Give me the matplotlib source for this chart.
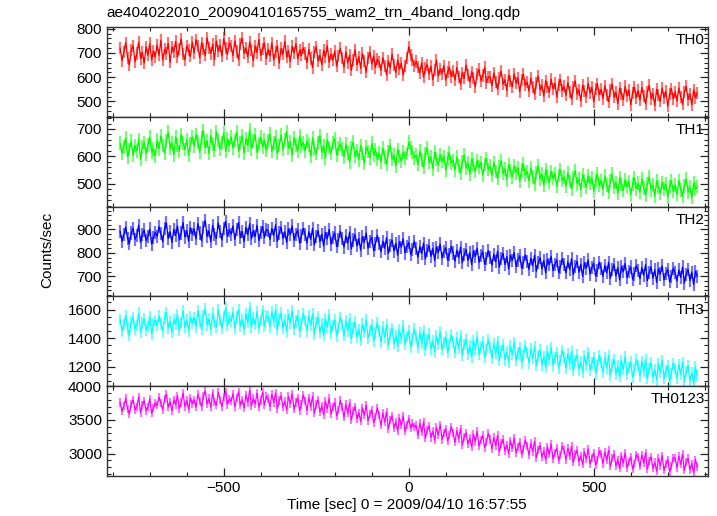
import matplotlib
matplotlib.use("Agg")
import matplotlib.pyplot as plt
import numpy as np
from matplotlib.ticker import MultipleLocator

plt.rcParams['font.family'] = ['Liberation Sans', 'DejaVu Sans']

# time bins, 5 s wide, centred from -780 to 780 s
t_start = -780
t_step = 5

th0 = [720, 668, 705, 742, 681, 650, 712, 730, 664, 698, 745, 677, 703, 658, 726, 690, 739, 671, 708, 684,
       733, 690, 752, 671, 715, 698, 740, 662, 725, 705, 748, 683, 717, 758, 694, 672, 730, 711, 686, 744,
       700, 755, 728, 680, 742, 715, 690, 763, 722, 698, 735, 672, 750, 708, 731, 687, 760, 719, 695, 741,
       728, 689, 750, 706, 672, 738, 761, 699, 720, 684, 745, 713, 667, 730, 702, 756, 690, 718, 741, 677,
       715, 688, 742, 671, 705, 730, 658, 719, 694, 748, 682, 710, 665, 727, 700, 739, 676, 712, 690, 722,
       698, 660, 715, 677, 640, 703, 725, 668, 690, 652, 711, 684, 730, 662, 695, 671, 708, 645, 688, 719,
       680, 642, 705, 659, 690, 628, 672, 714, 651, 685, 637, 698, 666, 620, 679, 703, 655, 688, 640, 674,
       662, 628, 681, 645, 610, 667, 639, 695, 652, 620, 671, 633, 658, 610, 646, 680, 726, 690, 672, 648,
       665, 641, 618, 660, 600, 637, 652, 612, 645, 590, 628, 670, 606, 634, 615, 648, 588, 622, 640, 603,
       625, 588, 640, 601, 572, 618, 595, 650, 610, 580, 623, 598, 560, 615, 632, 585, 607, 640, 578, 600,
       602, 565, 618, 580, 550, 596, 625, 571, 590, 545, 608, 583, 560, 615, 575, 598, 540, 588, 612, 566,
       580, 542, 596, 558, 530, 575, 605, 548, 566, 522, 585, 560, 538, 592, 551, 575, 518, 568, 590, 545,
       562, 525, 578, 540, 510, 558, 585, 530, 548, 502, 566, 543, 520, 575, 535, 558, 498, 550, 572, 528,
       550, 512, 565, 528, 498, 545, 572, 518, 538, 490, 555, 530, 508, 562, 522, 548, 486, 536, 560, 515,
       545, 505, 558, 522, 490, 540, 566, 512, 532, 484, 550, 525, 500, 556, 515, 542, 480, 530, 553, 510,
       540, 502, 556, 520, 488, 538, 562, 508, 530, 486, 548, 515, 535]

th1 = [648, 612, 635, 668, 598, 625, 655, 604, 640, 620, 662, 590, 633, 651, 609, 642, 670, 615, 628, 600,
       660, 628, 675, 640, 612, 655, 688, 630, 648, 605, 670, 642, 618, 680, 650, 625, 662, 603, 645, 672,
       638, 680, 652, 615, 668, 695, 632, 657, 610, 675, 645, 622, 690, 660, 628, 650, 685, 618, 664, 640,
       672, 630, 658, 690, 620, 648, 675, 612, 665, 640, 698, 628, 655, 680, 615, 645, 670, 635, 660, 622,
       655, 682, 618, 648, 670, 610, 640, 678, 625, 660, 690, 630, 652, 605, 668, 642, 620, 675, 638, 650,
       620, 655, 642, 600, 668, 628, 610, 650, 675, 615, 638, 595, 660, 632, 612, 648, 665, 605, 630, 645,
       628, 598, 645, 612, 580, 630, 652, 600, 622, 588, 640, 610, 575, 635, 618, 595, 648, 605, 625, 590,
       612, 580, 630, 598, 570, 618, 640, 590, 605, 565, 625, 600, 582, 615, 595, 610, 652, 630, 615, 595,
       605, 570, 620, 588, 560, 610, 630, 578, 598, 555, 615, 590, 568, 605, 582, 600, 550, 592, 612, 575,
       585, 550, 598, 565, 540, 580, 605, 558, 575, 535, 590, 568, 545, 585, 560, 578, 530, 570, 592, 552,
       565, 530, 578, 545, 520, 560, 585, 538, 555, 515, 570, 548, 525, 565, 540, 558, 510, 550, 572, 532,
       545, 510, 558, 525, 500, 540, 565, 518, 535, 495, 550, 528, 505, 545, 520, 538, 490, 530, 552, 512,
       525, 492, 540, 508, 482, 522, 548, 500, 518, 478, 532, 510, 488, 528, 502, 520, 472, 512, 535, 495,
       512, 480, 528, 495, 470, 510, 535, 488, 505, 465, 520, 498, 475, 515, 490, 508, 460, 500, 522, 482,
       502, 470, 518, 485, 460, 500, 525, 478, 495, 455, 510, 488, 465, 505, 480, 498, 452, 490, 512, 472,
       495, 462, 512, 478, 455, 492, 518, 470, 488, 450, 502, 480, 490]

th2 = [892, 850, 878, 910, 862, 840, 885, 905, 858, 875, 918, 845, 880, 898, 852, 870, 902, 838, 866, 888,
       870, 912, 882, 848, 905, 928, 862, 890, 845, 900, 875, 915, 855, 885, 930, 868, 895, 850, 908, 880,
       902, 860, 925, 885, 852, 910, 938, 870, 895, 848, 918, 880, 862, 928, 890, 855, 905, 935, 872, 898,
       880, 915, 858, 900, 930, 865, 892, 848, 910, 878, 925, 860, 895, 870, 918, 852, 888, 912, 865, 900,
       895, 858, 905, 875, 920, 850, 885, 910, 862, 890, 845, 902, 878, 915, 855, 880, 898, 842, 872, 905,
       878, 842, 890, 858, 905, 835, 870, 895, 848, 880, 830, 888, 860, 900, 838, 865, 885, 828, 855, 892,
       860, 825, 872, 842, 888, 818, 855, 878, 830, 862, 812, 870, 845, 885, 820, 850, 868, 810, 838, 875,
       840, 805, 850, 820, 865, 798, 832, 855, 808, 842, 790, 848, 825, 860, 800, 828, 845, 795, 815, 850,
       818, 782, 828, 798, 842, 775, 810, 832, 785, 820, 768, 825, 802, 838, 778, 805, 822, 770, 792, 828,
       800, 765, 812, 780, 825, 758, 792, 815, 768, 802, 750, 808, 785, 820, 760, 788, 805, 752, 775, 810,
       782, 748, 795, 762, 808, 740, 775, 798, 750, 785, 732, 790, 768, 802, 742, 770, 788, 735, 758, 792,
       765, 730, 778, 745, 790, 722, 758, 780, 732, 768, 715, 772, 750, 785, 725, 752, 770, 718, 740, 775,
       750, 715, 762, 730, 775, 708, 742, 765, 718, 752, 700, 758, 735, 770, 710, 738, 755, 702, 725, 760,
       735, 700, 748, 715, 760, 692, 728, 750, 702, 738, 685, 742, 720, 755, 695, 722, 740, 688, 710, 745,
       725, 690, 738, 705, 750, 682, 718, 740, 692, 728, 675, 732, 710, 745, 685, 712, 730, 678, 700, 735,
       715, 680, 728, 695, 740, 672, 708, 730, 682, 718, 665, 722, 700]

th3 = [1530, 1450, 1495, 1560, 1470, 1420, 1515, 1545, 1465, 1490, 1575, 1440, 1505, 1535, 1458, 1482, 1552, 1430, 1498, 1525,
       1490, 1555, 1505, 1448, 1540, 1580, 1470, 1515, 1440, 1532, 1498, 1565, 1455, 1510, 1590, 1475, 1528, 1450, 1548, 1502,
       1545, 1480, 1590, 1520, 1465, 1558, 1605, 1492, 1535, 1460, 1575, 1510, 1478, 1598, 1525, 1470, 1550, 1610, 1488, 1540,
       1520, 1580, 1470, 1548, 1600, 1485, 1530, 1462, 1570, 1510, 1615, 1478, 1542, 1495, 1585, 1468, 1525, 1595, 1482, 1555,
       1550, 1478, 1585, 1515, 1598, 1460, 1535, 1575, 1470, 1528, 1450, 1565, 1505, 1590, 1465, 1520, 1558, 1445, 1500, 1572,
       1525, 1452, 1555, 1488, 1570, 1430, 1505, 1548, 1440, 1498, 1420, 1535, 1478, 1562, 1435, 1490, 1528, 1415, 1472, 1545,
       1495, 1418, 1520, 1452, 1535, 1398, 1470, 1512, 1405, 1462, 1385, 1500, 1442, 1528, 1400, 1455, 1492, 1380, 1438, 1510,
       1450, 1375, 1478, 1408, 1492, 1355, 1428, 1468, 1362, 1420, 1342, 1458, 1398, 1485, 1358, 1412, 1450, 1338, 1395, 1465,
       1410, 1335, 1438, 1368, 1452, 1318, 1390, 1428, 1325, 1380, 1305, 1418, 1360, 1445, 1320, 1372, 1410, 1300, 1355, 1425,
       1375, 1300, 1402, 1332, 1418, 1282, 1355, 1392, 1290, 1345, 1270, 1385, 1325, 1410, 1285, 1338, 1375, 1265, 1320, 1390,
       1335, 1262, 1362, 1292, 1378, 1245, 1315, 1352, 1250, 1305, 1232, 1345, 1285, 1370, 1248, 1298, 1335, 1228, 1280, 1350,
       1300, 1228, 1328, 1258, 1342, 1210, 1280, 1318, 1215, 1270, 1198, 1310, 1250, 1335, 1212, 1262, 1300, 1192, 1245, 1315,
       1265, 1192, 1292, 1222, 1308, 1175, 1245, 1282, 1180, 1235, 1162, 1275, 1215, 1300, 1178, 1228, 1265, 1158, 1210, 1280,
       1235, 1162, 1262, 1192, 1278, 1145, 1215, 1252, 1150, 1205, 1132, 1245, 1185, 1270, 1148, 1198, 1235, 1128, 1180, 1250,
       1210, 1138, 1238, 1168, 1252, 1120, 1190, 1228, 1125, 1180, 1108, 1220, 1160, 1245, 1122, 1172, 1210, 1102, 1155, 1225,
       1190, 1118, 1218, 1148, 1232, 1100, 1170, 1208, 1105, 1160, 1088, 1200, 1140]

th0123 = [3760, 3630, 3710, 3820, 3665, 3590, 3740, 3800, 3650, 3700, 3840, 3610, 3725, 3785, 3640, 3690, 3810, 3600, 3680, 3750,
          3720, 3840, 3750, 3650, 3810, 3880, 3690, 3770, 3640, 3800, 3730, 3860, 3670, 3760, 3900, 3700, 3790, 3660, 3830, 3740,
          3800, 3690, 3880, 3780, 3700, 3850, 3930, 3740, 3820, 3690, 3900, 3770, 3720, 3910, 3800, 3700, 3840, 3920, 3730, 3810,
          3780, 3890, 3700, 3830, 3920, 3720, 3800, 3680, 3870, 3760, 3940, 3710, 3820, 3740, 3900, 3690, 3790, 3910, 3720, 3850,
          3820, 3700, 3880, 3760, 3900, 3670, 3790, 3860, 3690, 3780, 3650, 3850, 3740, 3890, 3660, 3760, 3830, 3640, 3730, 3870,
          3780, 3640, 3830, 3700, 3850, 3600, 3730, 3800, 3620, 3710, 3580, 3780, 3670, 3820, 3590, 3690, 3760, 3560, 3650, 3790,
          3690, 3540, 3730, 3600, 3750, 3500, 3630, 3700, 3520, 3610, 3480, 3680, 3570, 3720, 3490, 3590, 3650, 3460, 3550, 3680,
          3570, 3420, 3600, 3470, 3620, 3370, 3500, 3560, 3380, 3470, 3340, 3530, 3420, 3560, 3330, 3430, 3520, 3380, 3450, 3400,
          3420, 3270, 3450, 3320, 3470, 3230, 3350, 3410, 3240, 3330, 3200, 3390, 3280, 3430, 3210, 3300, 3370, 3190, 3270, 3400,
          3310, 3170, 3340, 3220, 3370, 3130, 3250, 3310, 3140, 3230, 3100, 3290, 3180, 3330, 3110, 3200, 3270, 3090, 3170, 3300,
          3210, 3070, 3240, 3120, 3270, 3030, 3150, 3210, 3040, 3130, 3000, 3190, 3080, 3230, 3010, 3100, 3170, 2990, 3070, 3200,
          3120, 2980, 3150, 3030, 3180, 2940, 3060, 3120, 2950, 3040, 2910, 3100, 2990, 3140, 2920, 3010, 3080, 2900, 2980, 3110,
          3050, 2910, 3080, 2960, 3110, 2870, 2990, 3050, 2880, 2970, 2840, 3030, 2920, 3070, 2850, 2940, 3010, 2830, 2910, 3040,
          2990, 2850, 3020, 2900, 3050, 2810, 2930, 2990, 2820, 2910, 2780, 2970, 2860, 3010, 2790, 2880, 2950, 2770, 2850, 2980,
          2950, 2810, 2980, 2860, 3010, 2770, 2890, 2950, 2780, 2870, 2740, 2930, 2820, 2970, 2750, 2840, 2910, 2730, 2810, 2940,
          2930, 2790, 2960, 2840, 2990, 2750, 2870, 2930, 2760, 2850, 2720, 2910, 2800]

# typical 1-sigma error of one bin in each band
errs = [25, 25, 28, 40, 60]

names = ['TH0', 'TH1', 'TH2', 'TH3', 'TH0123']
series = [th0, th1, th2, th3, th0123]
colors = ['#ff0000', '#00ff00', '#0000ff', '#00ffff', '#ff00ff']
ylims = [(437, 808), (417, 745), (615, 998), (1066, 1692), (2667, 4003)]
ymaj = [100, 100, 100, 200, 500]
ymin = [20, 20, 20, 50, 100]

fig, axs = plt.subplots(5, 1, figsize=(7.17, 5.16), dpi=100, sharex=True)
fig.subplots_adjust(left=0.149, right=0.987, top=0.948, bottom=0.0775, hspace=0)

for ax, name, y, c, e, yl, mj, mn in zip(axs, names, series, colors, errs, ylims, ymaj, ymin):
    y = np.array(y, dtype=float)
    t = t_start + t_step * np.arange(len(y))
    ax.vlines(t, y - e, y + e, color=c, alpha=0.55, linewidth=1.6)
    ax.plot(t, y, color=c, linewidth=0.9)
    ax.set_ylim(*yl)
    ax.set_xlim(-816, 808)
    ax.yaxis.set_major_locator(MultipleLocator(mj))
    ax.yaxis.set_minor_locator(MultipleLocator(mn))
    ax.xaxis.set_major_locator(MultipleLocator(500))
    ax.xaxis.set_minor_locator(MultipleLocator(100))
    ax.tick_params(which='both', direction='in', top=True, right=True, labelsize=11, colors='#222222', labelcolor='black')
    ax.tick_params(which='major', length=6, width=0.9)
    ax.tick_params(which='minor', length=3, width=0.8)
    for s in ax.spines.values():
        s.set_color('#333333')
        s.set_linewidth(1.0)
    ax.text(0.995, 0.93, name, transform=ax.transAxes, ha='right', va='top', fontsize=11)

axs[-1].set_xlabel('Time [sec] 0 = 2009/04/10 16:57:55', fontsize=11, labelpad=2)
fig.text(0.066, 0.515, 'Counts/sec', rotation=90, ha='center', va='center', fontsize=11)
fig.text(0.149, 0.962, 'ae404022010_20090410165755_wam2_trn_4band_long.qdp', ha='left', va='bottom', fontsize=11)

plt.savefig('out.png', dpi=100)
